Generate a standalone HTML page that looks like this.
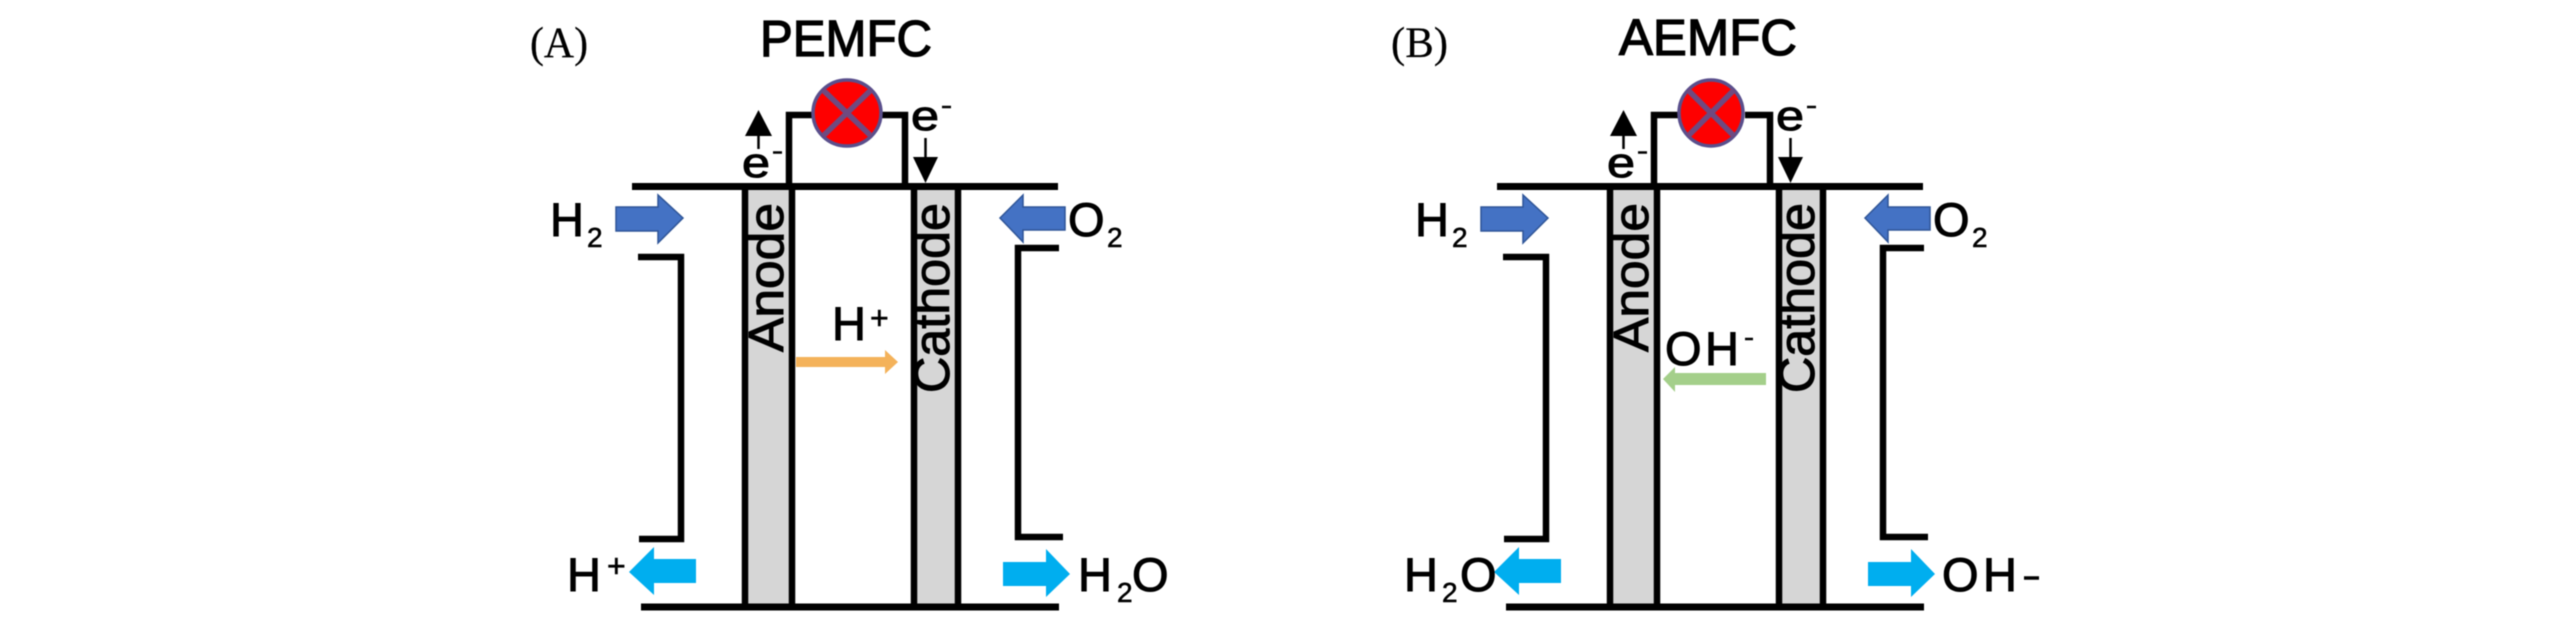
<!DOCTYPE html>
<html>
<head>
<meta charset="utf-8">
<style>
html,body{margin:0;padding:0;background:#fff;width:2567px;height:630px;overflow:hidden}
svg{display:block;filter:blur(0.6px)}
text{font-family:"Liberation Sans",sans-serif;fill:#000;stroke:#000;stroke-width:1}
.serif{font-family:"Liberation Serif",serif;font-size:43px;stroke-width:0.2}
.big{font-size:47px}
.sub{font-size:28px;stroke-width:0.6}
.sup{font-size:32px;stroke-width:0.6}
.title{font-size:51px;stroke-width:1.3}
.wire{stroke:#000;stroke-width:6.5;fill:none}
.thick{stroke:#000;stroke-width:7;fill:none}
.blue{fill:#4472c4;stroke:#2f5597;stroke-width:1.5}
.cyan{fill:#00aeef}
</style>
</head>
<body>
<svg width="2567" height="630" viewBox="0 0 2567 630" xmlns="http://www.w3.org/2000/svg">
<defs>
<g id="cell">
  <!-- electrodes -->
  <rect x="745" y="186" width="47" height="421" fill="#d6d6d6"/>
  <rect x="914" y="186" width="44" height="421" fill="#d6d6d6"/>
  <path class="wire" d="M745 186V607M792 186V607M914 186V607M958 186V607"/>
  <!-- top and bottom plates -->
  <path class="thick" d="M632 186.500H1058M641 607H1059"/>
  <rect x="679" y="186" width="5" height="4" fill="#000"/>
  <!-- brackets -->
  <path class="wire" d="M638 257H681V539H639"/>
  <path class="wire" d="M1059 248H1018V537H1063"/>
  <!-- wire -->
  <path class="wire" d="M789 186V115H815M880 115H905V186"/>
  <!-- inlet arrows -->
  <path class="blue" d="M616 207H658V195L683 218L658 243V231H616Z"/>
  <path class="blue" d="M1065 207H1023V195L1000 218L1023 242V230H1065Z"/>
  <!-- outlet arrows -->
  <path class="cyan" d="M696 559H654V547L629 572L654 595V583H696Z"/>
  <path class="cyan" d="M1003 562H1046V549L1070 574L1046 597V586H1003Z"/>
  <!-- electron arrows -->
  <path d="M745 136L758.500 110L772 136Z" fill="#000"/>
  <path d="M758.500 134V149" stroke="#000" stroke-width="2.500"/>
  <path d="M925.500 138V160" stroke="#000" stroke-width="2.500"/>
  <path d="M913 157H938L925.500 183Z" fill="#000"/>
  <text x="742" y="177" class="big" textLength="28" lengthAdjust="spacingAndGlyphs" style="font-size:42px">e</text>
  <path d="M773 152.500H782" stroke="#000" stroke-width="2.500"/>
  <text x="911" y="130" class="big" textLength="28" lengthAdjust="spacingAndGlyphs" style="font-size:42px">e</text>
  <path d="M942 107H951" stroke="#000" stroke-width="2.500"/>
  <!-- electrode labels -->
  <text transform="translate(783 352) rotate(-90)" class="big" textLength="149" lengthAdjust="spacingAndGlyphs" style="font-size:49px">Anode</text>
  <text transform="translate(949 393) rotate(-90)" class="big" textLength="190" lengthAdjust="spacingAndGlyphs" style="font-size:50px">Cathode</text>
  <!-- H2, O2 -->
  <text x="550" y="236" class="big">H</text>
  <text x="587" y="247" class="sub">2</text>
  <text x="1068" y="236" class="big">O</text>
  <text x="1107" y="247" class="sub">2</text>
</g>
</defs>

<use href="#cell"/>
<use href="#cell" x="865"/>

<!-- lamps -->
<g stroke="#5a4f8c" fill="none">
  <ellipse cx="847" cy="113" rx="34" ry="33" fill="#fe0000" stroke-width="3.500"/>
  <path d="M823 90L871 136M871 90L823 136" stroke="#6f4a80" stroke-width="5.500"/>
  <ellipse cx="1711" cy="113" rx="32" ry="33" fill="#fe0000" stroke-width="3.500"/>
  <path d="M1688 90L1734 136M1734 90L1688 136" stroke="#6f4a80" stroke-width="5.500"/>
</g>

<!-- Panel A text -->
<text x="530" y="57" class="serif" textLength="58" lengthAdjust="spacingAndGlyphs">(A)</text>
<text x="760" y="56" class="title" textLength="172" lengthAdjust="spacingAndGlyphs">PEMFC</text>
<text x="832" y="340" class="big">H</text>
<text x="870" y="329" class="sup">+</text>
<path d="M796 357H885V350L898 362L885 374V367H796Z" fill="#f4b25a"/>
<text x="567" y="591" class="big">H</text>
<text x="607" y="577" class="sup">+</text>
<text x="1078" y="591" class="big">H</text>
<text x="1117" y="602" class="sub">2</text>
<text x="1132" y="591" class="big">O</text>

<!-- Panel B text -->
<text x="1391" y="57" class="serif" textLength="57" lengthAdjust="spacingAndGlyphs">(B)</text>
<text x="1619" y="55" class="title" textLength="178" lengthAdjust="spacingAndGlyphs">AEMFC</text>
<text x="1665" y="365" class="big">O</text>
<text x="1705" y="365" class="big">H</text>
<path d="M1745 339H1753" stroke="#000" stroke-width="2.500"/>
<path d="M1766 373H1675V367L1663 379L1675 392V385H1766Z" fill="#a4cf8a"/>
<text x="1404" y="591" class="big">H</text>
<text x="1442" y="602" class="sub">2</text>
<text x="1460" y="591" class="big">O</text>
<text x="1942" y="591" class="big">O</text>
<text x="1983" y="591" class="big">H</text>
<path d="M2024 578H2039" stroke="#000" stroke-width="3.500"/>
</svg>
</body>
</html>
